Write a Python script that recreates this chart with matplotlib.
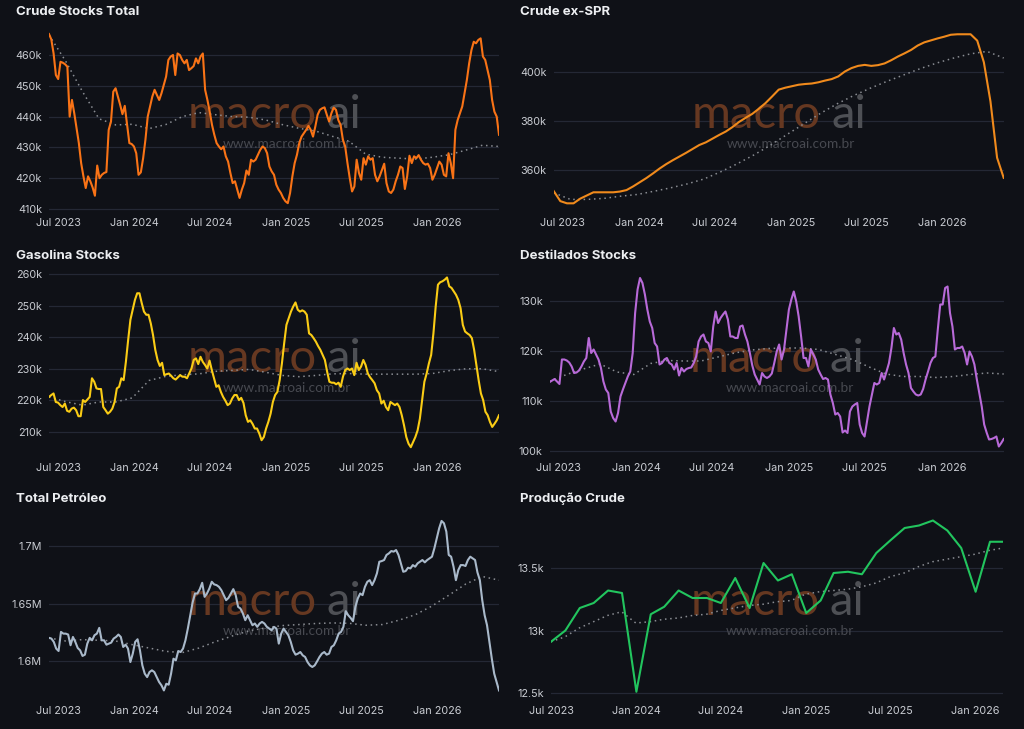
import numpy as np
import pandas as pd
import matplotlib
matplotlib.use("Agg")
import matplotlib.pyplot as plt
import matplotlib.dates as mdates
from matplotlib.ticker import FuncFormatter, FixedLocator

# ---- data ----
week_start, week_end = "2023-06-09", "2026-05-29"

crude_total = [466.8, 465.1, 460.5, 453.5, 452.2, 457.8, 457.5, 457.0, 456.2, 440.0,
               445.4, 441.1, 436.2, 431.4, 424.9, 420.6, 416.8, 420.6, 419.0, 417.0,
               414.3, 424.1, 420.0, 421.1, 421.7, 422.0, 435.7, 438.4, 448.1, 449.2,
               446.5, 443.8, 440.8, 443.5, 437.3, 431.4, 431.1, 430.3, 428.1, 421.1,
               421.9, 426.5, 432.5, 440.0, 443.3, 446.5, 448.7, 447.0, 445.4, 447.6,
               450.3, 453.0, 458.4, 459.5, 460.0, 453.5, 460.5, 460.0, 458.4, 457.3,
               458.4, 455.1, 455.7, 456.4, 458.9, 457.3, 459.5, 460.5, 448.7, 445.4,
               441.6, 437.3, 434.1, 431.4, 430.3, 429.4, 430.3, 427.1, 425.4, 421.7,
               418.4, 419.0, 416.3, 413.6, 416.3, 418.4, 422.5, 421.1, 426.0, 425.4,
               426.0, 427.6, 429.2, 430.3, 429.8, 428.1, 423.8, 422.2, 421.1, 417.9,
               416.3, 415.2, 413.6, 412.5, 411.9, 415.2, 420.6, 424.9, 427.6, 431.4,
               433.5, 434.6, 435.7, 437.0, 435.7, 433.5, 436.8, 440.6, 442.2, 442.7,
               443.0, 440.6, 438.4, 441.1, 442.9, 442.2, 438.9, 437.3, 432.5, 430.3,
               424.9, 420.0, 415.7, 417.3, 426.0, 421.7, 419.5, 426.5, 424.4, 427.1,
               426.0, 426.5, 421.1, 419.0, 420.6, 422.7, 424.7, 418.4, 415.7, 415.2,
               416.3, 419.0, 421.1, 423.8, 423.3, 416.5, 420.6, 427.3, 424.9, 427.1,
               426.5, 427.5, 426.0, 424.9, 424.4, 424.7, 423.3, 419.5, 421.1, 423.3,
               425.4, 424.4, 421.1, 420.6, 428.1, 424.9, 420.0, 435.7, 438.9, 441.1,
               443.3, 447.6, 451.9, 457.3, 461.6, 464.3, 463.8, 464.9, 465.4, 459.5,
               458.4, 455.1, 451.9, 445.4, 441.6, 440.0, 434.1]
crude_total_trend = [466.5, 458.0, 448.2, 439.3, 437.3, 437.5, 436.1, 437.4, 440.0, 441.3,
                     440.6, 440.0, 439.8, 438.9, 437.4, 436.2, 435.3, 433.6, 432.0, 427.8,
                     426.8, 426.5, 426.2, 426.8, 427.6, 429.1, 430.7, 430.3]

crude_ex_spr = [351.4, 347.3, 346.4, 346.4, 348.3, 349.6, 350.9, 350.9, 350.9, 350.9,
                351.2, 351.8, 353.3, 355.0, 356.7, 358.6, 360.6, 362.4, 364.0, 365.5,
                367.0, 368.6, 370.2, 371.3, 372.8, 374.3, 375.7, 377.5, 379.6, 381.3,
                382.9, 385.0, 387.3, 390.0, 392.8, 393.6, 394.2, 394.8, 395.1, 395.3,
                395.8, 396.5, 397.1, 398.2, 400.2, 401.6, 402.5, 402.9, 402.5, 402.8,
                403.5, 404.8, 406.3, 407.6, 409.0, 410.8, 412.1, 412.9, 413.7, 414.4,
                415.2, 415.4, 415.4, 415.4, 412.8, 404.0, 388.0, 365.0, 356.8]
crude_ex_spr_trend = [350.7, 348.0, 348.0, 348.4, 349.3, 350.0, 351.3, 352.7, 354.3, 356.3,
                      359.2, 362.5, 366.1, 370.1, 374.5, 378.8, 383.1, 387.0, 390.4, 393.4,
                      396.2, 398.8, 401.4, 403.7, 405.7, 407.4, 408.4, 405.7]

gasolina = [221.1, 221.7, 222.2, 219.5, 219.3, 218.5, 217.9, 219.0, 216.7, 216.4,
            217.4, 217.7, 216.9, 215.0, 215.0, 220.1, 219.5, 220.3, 221.1, 227.0,
            225.9, 223.8, 223.6, 223.6, 217.9, 216.9, 215.8, 216.4, 217.4, 219.5,
            223.8, 224.3, 227.0, 226.4, 232.2, 239.1, 245.5, 248.7, 251.8, 253.9,
            253.9, 250.8, 248.1, 247.1, 247.1, 244.4, 240.7, 236.0, 232.8, 230.9,
            231.9, 228.0, 228.3, 228.5, 227.8, 227.0, 226.6, 227.3, 228.0, 227.5,
            227.5, 227.0, 228.5, 230.1, 232.8, 233.3, 231.5, 233.8, 232.2, 231.2,
            230.1, 232.6, 229.6, 227.0, 224.3, 224.8, 222.7, 221.1, 219.9, 218.5,
            219.0, 220.6, 221.7, 221.7, 220.1, 220.8, 219.2, 215.3, 213.2, 213.7,
            212.6, 211.1, 211.1, 209.5, 207.4, 208.4, 211.1, 213.2, 215.8, 219.5,
            221.7, 222.7, 226.4, 231.7, 238.1, 243.9, 246.0, 248.1, 249.7, 251.0,
            248.7, 248.1, 248.5, 248.1, 247.1, 241.2, 240.7, 239.7, 238.6, 237.2,
            236.0, 234.4, 232.8, 229.1, 225.9, 225.6, 225.6, 225.1, 225.6, 224.3,
            227.5, 229.6, 230.1, 229.6, 230.1, 228.0, 231.9, 229.6, 230.7, 232.8,
            231.2, 228.5, 227.3, 226.4, 225.4, 223.2, 222.2, 219.0, 219.9, 217.9,
            216.9, 219.5, 219.0, 218.5, 219.0, 217.9, 215.3, 212.1, 208.4, 206.3,
            205.2, 206.8, 208.4, 210.5, 214.2, 220.1, 225.9, 228.5, 231.7, 234.4,
            241.2, 249.7, 256.6, 257.4, 257.7, 258.2, 258.9, 256.1, 255.6, 254.5,
            253.4, 251.8, 249.2, 243.9, 241.8, 241.2, 240.7, 239.7, 236.0, 231.2,
            226.4, 222.2, 220.1, 216.4, 215.3, 213.2, 211.6, 212.6, 213.7, 215.3]
gasolina_trend = [221.1, 219.6, 218.5, 219.5, 219.5, 220.8, 226.3, 227.6, 228.1, 228.4,
                  229.2, 229.5, 229.8, 228.9, 227.9, 227.5, 227.9, 228.4, 228.5, 228.3,
                  228.3, 228.3, 228.3, 228.5, 229.4, 230.0, 230.0, 229.1]

destilados = [113.8, 114.1, 114.4, 113.9, 113.4, 118.3, 118.3, 118.1, 117.7, 116.9,
              115.6, 115.7, 116.1, 116.9, 117.9, 118.6, 122.6, 119.6, 120.3, 119.3,
              118.3, 116.6, 113.9, 112.3, 111.6, 107.9, 106.6, 105.9, 107.6, 110.9,
              112.3, 113.6, 114.9, 115.9, 119.6, 127.6, 132.3, 134.6, 133.6, 131.3,
              128.3, 125.9, 124.6, 121.6, 120.9, 117.3, 117.6, 118.3, 118.6, 117.6,
              117.3, 116.3, 117.6, 115.1, 116.6, 115.9, 116.4, 116.6, 116.7, 117.6,
              118.9, 121.9, 122.9, 123.3, 121.9, 121.6, 119.9, 124.9, 127.9, 125.6,
              126.6, 127.3, 127.9, 126.3, 122.9, 122.9, 122.6, 122.6, 124.9, 125.1,
              123.3, 121.9, 119.6, 117.1, 115.3, 114.3, 113.3, 115.6, 114.9, 114.6,
              114.9, 115.5, 117.6, 119.9, 121.3, 118.3, 120.3, 124.3, 128.3, 130.3,
              131.9, 129.9, 126.9, 122.9, 118.6, 118.6, 116.9, 120.3, 119.3, 118.3,
              116.3, 115.3, 114.4, 114.6, 114.3, 111.3, 109.6, 107.3, 107.6, 106.9,
              103.7, 104.1, 103.6, 107.9, 108.9, 109.3, 109.6, 105.3, 103.6, 102.9,
              105.9, 108.9, 111.3, 113.6, 113.3, 113.6, 115.6, 114.3, 115.9, 117.6,
              120.6, 124.6, 123.3, 123.6, 122.3, 119.6, 117.3, 115.6, 112.6, 111.9,
              111.3, 111.1, 111.3, 112.4, 114.3, 115.9, 117.6, 118.6, 118.9, 124.3,
              129.3, 129.3, 132.6, 132.9, 127.6, 124.9, 120.3, 120.6, 120.6, 120.9,
              119.6, 117.3, 119.9, 118.9, 117.3, 114.3, 111.6, 108.9, 105.3, 103.7,
              102.3, 102.4, 102.6, 102.9, 100.9, 101.6, 102.4]
destilados_trend = [113.9, 115.3, 116.4, 117.4, 115.8, 115.3, 117.5, 118.1, 118.0, 118.0,
                    118.8, 119.6, 120.2, 120.5, 120.6, 120.6, 120.3, 119.3, 118.3, 116.8,
                    115.4, 114.9, 114.9, 114.7, 114.9, 115.3, 115.6, 115.4]

total_petroleo = [1.6201, 1.6195, 1.6166, 1.6108, 1.6087, 1.6253, 1.6238, 1.6238, 1.6230, 1.6137,
                  1.6209, 1.6166, 1.6113, 1.6093, 1.6044, 1.6055, 1.6151, 1.6201, 1.6180, 1.6224,
                  1.6238, 1.6288, 1.6180, 1.6180, 1.6142, 1.6151, 1.6160, 1.6195, 1.6209, 1.6230,
                  1.6209, 1.6122, 1.6142, 1.6108, 1.5991, 1.6064, 1.6166, 1.6189, 1.6093, 1.5962,
                  1.5890, 1.5860, 1.5904, 1.5919, 1.5904, 1.5860, 1.5817, 1.5788, 1.5744, 1.5802,
                  1.5794, 1.5890, 1.6020, 1.6006, 1.6087, 1.6078, 1.6108, 1.6180, 1.6282, 1.6398,
                  1.6509, 1.6587, 1.6587, 1.6625, 1.6680, 1.6558, 1.6587, 1.6631, 1.6689, 1.6666,
                  1.6660, 1.6645, 1.6616, 1.6573, 1.6529, 1.6549, 1.6587, 1.6625, 1.6573, 1.6471,
                  1.6456, 1.6413, 1.6355, 1.6398, 1.6355, 1.6311, 1.6326, 1.6297, 1.6326, 1.6340,
                  1.6326, 1.6297, 1.6282, 1.6267, 1.6297, 1.6282, 1.6151, 1.6238, 1.6282, 1.6253,
                  1.6224, 1.6166, 1.6093, 1.6055, 1.6064, 1.6078, 1.6049, 1.6035, 1.5991, 1.5962,
                  1.5948, 1.5962, 1.5997, 1.6035, 1.6064, 1.6078, 1.6055, 1.6064, 1.6122, 1.6137,
                  1.6180, 1.6238, 1.6253, 1.6297, 1.6433, 1.6398, 1.6375, 1.6346, 1.6471, 1.6544,
                  1.6587, 1.6573, 1.6645, 1.6689, 1.6703, 1.6660, 1.6703, 1.6762, 1.6863, 1.6869,
                  1.6878, 1.6922, 1.6936, 1.6956, 1.6951, 1.6965, 1.6922, 1.6849, 1.6776, 1.6782,
                  1.6811, 1.6805, 1.6834, 1.6820, 1.6849, 1.6863, 1.6878, 1.6858, 1.6878, 1.6892,
                  1.6907, 1.6980, 1.7067, 1.7154, 1.7218, 1.7198, 1.7125, 1.6922, 1.6907, 1.6820,
                  1.6703, 1.6791, 1.6834, 1.6834, 1.6826, 1.6878, 1.6907, 1.6892, 1.6878, 1.6770,
                  1.6703, 1.6529, 1.6398, 1.6311, 1.6166, 1.6020, 1.5890, 1.5817, 1.5744]
total_petroleo_trend = [1.6201, 1.6174, 1.6186, 1.6180, 1.6174, 1.6142, 1.6113, 1.6084, 1.6073, 1.6113,
                        1.6169, 1.6218, 1.6262, 1.6288, 1.6308, 1.6317, 1.6326, 1.6331, 1.6328, 1.6311,
                        1.6317, 1.6355, 1.6404, 1.6480, 1.6573, 1.6669, 1.6735, 1.6703]

# monthly crude production (Jul 2023 .. Mar 2026)
producao = [12.91, 13.00, 13.18, 13.22, 13.32, 13.30, 12.51, 13.13, 13.19, 13.32,
            13.26, 13.26, 13.22, 13.42, 13.18, 13.54, 13.40, 13.45, 13.14, 13.24,
            13.46, 13.47, 13.45, 13.62, 13.72, 13.82, 13.84, 13.88, 13.80, 13.66,
            13.31, 13.71, 13.71]
producao_trend = [12.91, 12.95, 13.02, 13.07, 13.12, 13.15, 13.06, 13.07, 13.09, 13.10,
                  13.12, 13.13, 13.16, 13.18, 13.20, 13.21, 13.23, 13.24, 13.29, 13.31,
                  13.32, 13.33, 13.35, 13.38, 13.43, 13.46, 13.51, 13.55, 13.57, 13.59,
                  13.61, 13.64, 13.66]

# ---- style ----
BG = "#0f1117"
GRID = "#242835"
TICK = "#c9ccd2"
TREND = "#8a8d93"

W, H = 1024, 729
fig = plt.figure(figsize=(W / 100, H / 100), dpi=100, facecolor=BG)
plt.rcParams["font.family"] = ["Inter", "DejaVu Sans"]


def make_panel(box, refs, title, title_xy, series, trend, color, yticks, fmt,
               start, end, freq=None):
    x0, x1, ytop, ybot = box
    ax = fig.add_axes([x0 / W, 1 - ybot / H, (x1 - x0) / W, (ybot - ytop) / H])
    ax.set_facecolor(BG)
    # y-limits from two reference gridlines (value, pixel row)
    (v1, p1), (v2, p2) = refs
    scale = (v1 - v2) / (p2 - p1)
    ax.set_ylim(v2 - (ybot - p2) * scale, v1 + (p1 - ytop) * scale)

    if freq is None:
        dates = pd.date_range(start, end, periods=len(series))
    else:
        dates = pd.date_range(start, end, freq=freq)
    tdates = pd.date_range(start, end, periods=len(trend))
    ax.plot(tdates, trend, color=TREND, lw=1.1, ls=(0, (1, 2.4)), zorder=2)
    ax.plot(dates, series, color=color, lw=1.5, zorder=3, solid_joinstyle="round")
    ax.set_xlim(pd.Timestamp(start), pd.Timestamp(end))

    ax.yaxis.set_major_locator(FixedLocator(yticks))
    ax.yaxis.set_major_formatter(FuncFormatter(fmt))
    ax.xaxis.set_major_locator(mdates.MonthLocator(bymonth=[1, 7]))
    ax.xaxis.set_major_formatter(mdates.DateFormatter("%b %Y"))
    ax.grid(axis="y", color=GRID, lw=0.9)
    ax.grid(axis="x", visible=False)
    ax.set_axisbelow(True)
    for s in ax.spines.values():
        s.set_visible(False)
    ax.tick_params(axis="both", length=0, colors=TICK, labelsize=7.8)
    ax.tick_params(axis="y", pad=5)
    ax.tick_params(axis="x", pad=4.5)

    # watermark (baseline-aligned "macro" + "ai", url below)
    wm = ["Lato", "DejaVu Sans"]
    ax.text(0.451, 0.462, "macro", transform=ax.transAxes, ha="center", va="baseline",
            fontsize=34, color="#663821", family=wm, zorder=1)
    ax.text(0.655, 0.462, "ai", transform=ax.transAxes, ha="center", va="baseline",
            fontsize=34, color="#4e5055", family=wm, zorder=1)
    ax.text(0.528, 0.372, "www.macroai.com.br", transform=ax.transAxes, ha="center",
            va="center", fontsize=9.8, color="#474950", family=wm, zorder=1)

    fig.text(title_xy[0] / W, 1 - title_xy[1] / H, title, ha="left", va="center",
             fontsize=9.5, fontweight="bold", color="#eceef1")
    return ax


kfmt = lambda v, p: f"{v:g}k"
mfmt = lambda v, p: f"{v:g}M"

make_panel((49, 499, 30, 212), ((460, 55), (410, 209)), "Crude Stocks Total", (16, 12),
           crude_total, crude_total_trend, "#f97316", [410, 420, 430, 440, 450, 460], kfmt,
           week_start, week_end)
make_panel((553.7, 1003.7, 30, 212), ((400, 72), (360, 170)), "Crude ex-SPR", (520, 12),
           crude_ex_spr, crude_ex_spr_trend, "#f08a1c", [360, 380, 400], kfmt,
           week_start, week_end)
make_panel((49, 499, 272, 457), ((260, 274), (210, 432)), "Gasolina Stocks", (16, 256),
           gasolina, gasolina_trend, "#facc15", [210, 220, 230, 240, 250, 260], kfmt,
           week_start, week_end)
make_panel((549.7, 1003.7, 272, 457), ((130, 301), (100, 451)), "Destilados Stocks", (520, 256),
           destilados, destilados_trend, "#b86ad8", [100, 110, 120, 130], kfmt,
           week_start, week_end)
make_panel((49, 499, 515, 700), ((1.7, 546), (1.6, 661)), "Total Petróleo", (16, 499),
           total_petroleo, total_petroleo_trend, "#a9b9ca", [1.6, 1.65, 1.7], mfmt,
           week_start, week_end)
make_panel((551, 1003, 515, 700), ((13.5, 568), (12.5, 693)), "Produção Crude", (520, 499),
           producao, producao_trend, "#22c55e", [12.5, 13, 13.5], kfmt,
           "2023-07-01", "2026-03-01", freq="MS")

fig.savefig("out.png", dpi=100, facecolor=BG)
